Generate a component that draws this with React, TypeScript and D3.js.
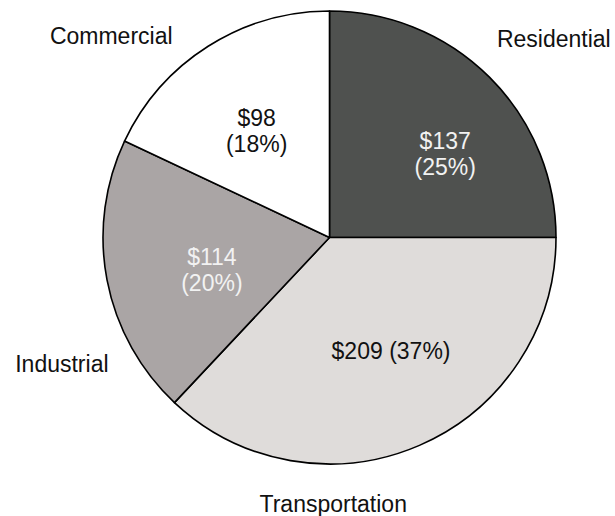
import React from "react";
import * as d3 from "d3";

const categories = ["Residential", "Transportation", "Industrial", "Commercial"];
const dollarValues = [137, 209, 114, 98];
const percentValues = [25, 37, 20, 18];
const sliceColors = ["#4f514f", "#dfdcda", "#aaa5a5", "#ffffff"];
const valueTextColors = ["#f2f2f2", "#111111", "#f2f2f2", "#111111"];

// label placement (polar: degrees clockwise from 12 o'clock, radius in px)
const innerLabelPolar = [
  { a: 54, r: 143, oneLine: false },
  { a: 151.5, r: 129, oneLine: true },
  { a: 254.6, r: 122, oneLine: false },
  { a: 325.6, r: 129, oneLine: false },
];
const outerLabelPolar = [
  { a: 48.4, r: 300 },
  { a: 179.2, r: 266.5 },
  { a: 244.7, r: 296 },
  { a: 312.7, r: 297 },
];

const W = 615;
const H = 516;
const CX = 329.5;
const CY = 237.5;
const R = 226.5;
const FONT = "'Liberation Sans', Arial, sans-serif";
const FS = 23;

function polar(aDeg: number, r: number) {
  const a = (aDeg * Math.PI) / 180;
  return [CX + r * Math.sin(a), CY - r * Math.cos(a)];
}

export default function App() {
  const data = categories.map((c, i) => ({ c, v: dollarValues[i], p: percentValues[i], i }));
  const pie = d3.pie<any>().value((d) => d.p).sort(null);
  const arcs = pie(data);
  const arc = d3.arc<any>().innerRadius(0).outerRadius(R);

  return (
    <svg
      width={W}
      height={H}
      style={{ position: "absolute", left: 0, top: 0, background: "#fff" }}
      fontFamily={FONT}
    >
      <g transform={`translate(${CX},${CY})`}>
        {arcs.map((a, i) => (
          <path
            key={i}
            d={arc(a) || ""}
            fill={sliceColors[i]}
            stroke="#000"
            strokeWidth={1.6}
            strokeLinejoin="round"
          />
        ))}
      </g>
      {arcs.map((a, i) => {
        const lp = innerLabelPolar[i];
        const [x, y] = polar(lp.a, lp.r);
        const l1 = `$${a.data.v}`;
        const l2 = `(${a.data.p}%)`;
        if (lp.oneLine) {
          return (
            <text key={"v" + i} x={x} y={y + FS * 0.36} textAnchor="middle" fontSize={FS} fill={valueTextColors[i]}>
              {`${l1} ${l2}`}
            </text>
          );
        }
        return (
          <text key={"v" + i} x={x} y={y - 13 + FS * 0.36} textAnchor="middle" fontSize={FS} fill={valueTextColors[i]}>
            <tspan x={x}>{l1}</tspan>
            <tspan x={x} dy={26}>{l2}</tspan>
          </text>
        );
      })}
      {categories.map((c, i) => {
        const lp = outerLabelPolar[i];
        const [x, y] = polar(lp.a, lp.r);
        return (
          <text key={"c" + i} x={x} y={y + FS * 0.36} textAnchor="middle" fontSize={FS} fill="#111">
            {c}
          </text>
        );
      })}
    </svg>
  );
}
